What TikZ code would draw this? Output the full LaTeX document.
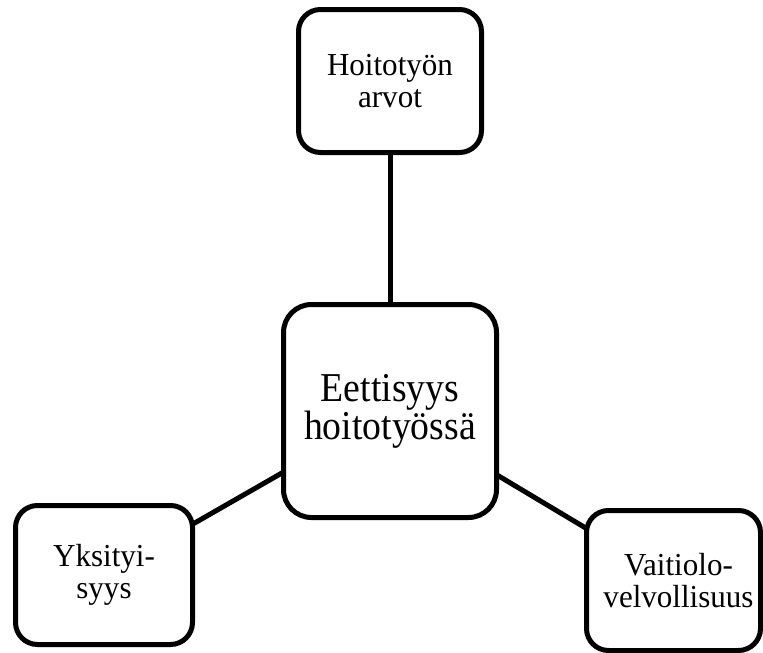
\documentclass[tikz,border=0pt]{standalone}
\usepackage{fontspec}
\setmainfont{Liberation Serif}
\newfontfamily\boxfont{Liberation Serif}[FakeStretch=0.97]
\newfontfamily\hubfont{Liberation Serif}[FakeStretch=0.92]
\usetikzlibrary{backgrounds}
\begin{document}
\begin{tikzpicture}[x=1pt,y=-1pt,
  box/.style={draw=black, line width=5pt, fill=white, rounded corners=22pt,
    inner sep=0pt, align=center, font=\boxfont\fontsize{32}{32}\selectfont},
  hub/.style={box, rounded corners=28pt, font=\hubfont\fontsize{41}{38}\selectfont},
  link/.style={draw=black, line width=5pt}]
  % central topic and the three themes around it
  \node[hub, minimum width=213pt, minimum height=213pt] (c) at (390,411) {Eettisyys\\hoitotyössä};
  \node[box, minimum width=183pt, minimum height=143pt] (t) at (390,81) {Hoitotyön\\arvot};
  \node[box, minimum width=177pt, minimum height=139pt] (l) at (104,575) {Yksityi-\\syys};
  \node[box, minimum width=174pt, minimum height=140pt] (r) at (673.5,580.5) {\hspace*{10pt}Vaitiolo-\\\hspace*{10pt}velvollisuus};
  \begin{pgfonlayer}{background}
    \fill[white] (0,0) rectangle (763,653);
    % spokes run centre to centre, hidden under the filled boxes
    \draw[link] (c.center) -- (t.center);
    \draw[link] (c.center) -- (l.center);
    \draw[link] (c.center) -- (r.center);
  \end{pgfonlayer}
  \useasboundingbox (0,0) rectangle (763,653);
\end{tikzpicture}
\end{document}
